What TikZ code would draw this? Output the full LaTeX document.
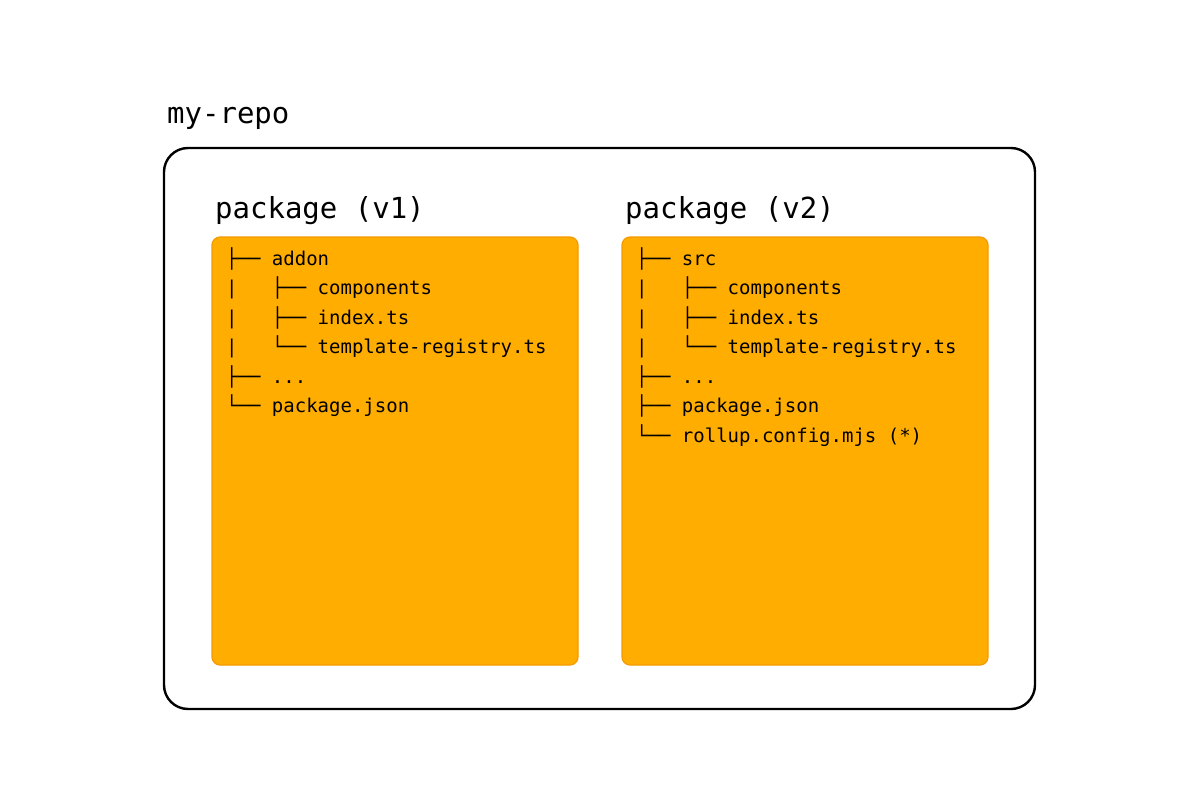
\documentclass[tikz,border=0pt]{standalone}
\usepackage{fontspec}
\setmonofont{DejaVu Sans Mono}
\definecolor{boxfill}{HTML}{FFAD00}
\definecolor{boxline}{HTML}{F59A00}
\begin{document}
\begin{tikzpicture}[x=1pt,y=-1pt,
  repo/.style={draw=black,line width=2.4pt,rounded corners=24pt},
  pkg/.style={draw=boxline,line width=1.2pt,fill=boxfill,rounded corners=8pt},
  bigtitle/.style={anchor=base west,inner sep=0pt,font=\ttfamily\fontsize{29}{34}\selectfont},
  tree/.style={anchor=base west,inner sep=0pt,font=\ttfamily\fontsize{19}{24}\selectfont}]
\useasboundingbox (0,0) rectangle (1200,800);
\fill[white] (0,0) rectangle (1200,800);
% outer repo box
\draw[repo] (164,148) rectangle (1035,709);
\node[bigtitle] (repotitle) at (167,123) {my-repo};
% package boxes
\draw[pkg] (212,237) rectangle (578,665);
\draw[pkg] (622,237) rectangle (988,665);
\node[bigtitle] (t1) at (215,218) {package (v1)};
\node[bigtitle] (t2) at (625,218) {package (v2)};
% v1 tree
\node[tree] (a1) at (226,265.0) {├── addon};
\node[tree] (a2) at (226,294.5) {|\ \ \ ├── components};
\node[tree] (a3) at (226,324.0) {|\ \ \ ├── index.ts};
\node[tree] (a4) at (226,353.5) {|\ \ \ └── template-registry.ts};
\node[tree] (a5) at (226,383.0) {├── ...};
\node[tree] (a6) at (226,412.5) {└── package.json};
% v2 tree
\node[tree] (b1) at (636,265.0) {├── src};
\node[tree] (b2) at (636,294.5) {|\ \ \ ├── components};
\node[tree] (b3) at (636,324.0) {|\ \ \ ├── index.ts};
\node[tree] (b4) at (636,353.5) {|\ \ \ └── template-registry.ts};
\node[tree] (b5) at (636,383.0) {├── ...};
\node[tree] (b6) at (636,412.5) {├── package.json};
\node[tree] (b7) at (636,442.0) {└── rollup.config.mjs (*)};
\end{tikzpicture}
\end{document}
